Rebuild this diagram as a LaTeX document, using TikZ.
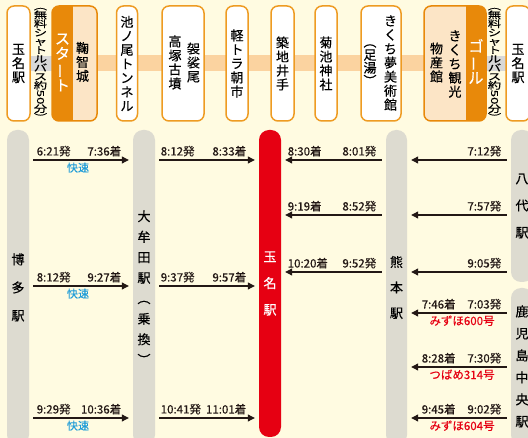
\documentclass[tikz,border=0pt]{standalone}
\usepackage{fontspec}
\usepackage{graphicx}
\setmainfont{Noto Sans CJK JP}[FakeBold=0.35]
\newfontfamily\flatfont{Noto Sans CJK JP}[FakeStretch=1.4, FakeBold=0.35]
\usetikzlibrary{arrows.meta,backgrounds}

\definecolor{cream}{HTML}{FFFBE1}
\definecolor{boxline}{HTML}{EE9B22}
\definecolor{accent}{HTML}{E8890A}
\definecolor{peachlt}{HTML}{FCE5C6}
\definecolor{band}{HTML}{FBD3A0}
\definecolor{shuttle}{HTML}{D8D8D8}
\definecolor{pillargray}{HTML}{DDDBD0}
\definecolor{tamanared}{HTML}{E60012}
\definecolor{ink}{HTML}{231815}
\definecolor{rapidblue}{HTML}{1E9CD8}

\newcommand{\chou}{\rotatebox[origin=c]{90}{ー}}

\begin{document}
\begin{tikzpicture}[x=1pt, y=-1pt,
  stop/.style={draw=boxline, fill=white, line width=1.5pt, rounded corners=7pt,
    minimum height=115pt, inner sep=0pt, outer sep=0pt, align=center,
    font=\fontsize{13}{14}\selectfont},
  tate/.style={inner sep=0pt, align=center, font=\fontsize{13}{14}\selectfont},
  bus/.style={inner sep=0pt, align=center,
    font={\flatfont\fontsize{9.5}{8.8}\selectfont\lineskiplimit=-2pt\lineskip=0pt}},
  pillar/.style={fill=pillargray, rounded corners=10pt, minimum width=22pt,
    inner sep=0pt, align=center},
  run/.style={draw=ink, line width=1.1pt, shorten <=4pt, shorten >=4pt,
    -{Triangle[length=7pt, width=7pt]}},
  time/.style={inner sep=1pt, yshift=2pt, text=ink, font=\fontsize{11.5}{13}\selectfont},
  rapid/.style={below, inner sep=1pt, yshift=-1pt, text=rapidblue, font=\fontsize{11}{12}\selectfont},
  train/.style={below, inner sep=1pt, yshift=-1pt, text=tamanared, font=\fontsize{11.5}{12}\selectfont}]
\useasboundingbox (0,0) rectangle (528,438);

% sightseeing stops
\node[stop, minimum width=23pt] (tamanaA) at (18.5,63.5) {玉\\名\\駅};
\node[bus] (busA) at (40.5,64.5) {︵\\無\\料\\シ\\ャ\\ト\\ル\\バ\\ス\\約\\\rotatebox[origin=c]{-90}{50}\\分\\︶};
\node[stop, draw=none, fill=peachlt, minimum width=45pt] (start) at (74.5,63.5) {};
\begin{scope}
  \clip[rounded corners=7pt] (start.south west) rectangle (start.north east);
  \fill[accent] (start.south west) rectangle ([xshift=21pt]start.north west);
\end{scope}
\draw[accent, line width=1.5pt, rounded corners=7pt] (start.south west) rectangle (start.north east);
\node[tate, text=white, font=\fontsize{15}{15}\selectfont] (startlbl) at (62.5,62.5) {ス\\タ\\\chou\\ト};
\node[tate] (kikuchijo) at (82.5,62) {鞠\\智\\城};
\node[stop, minimum width=21pt] (tunnel) at (127,63.5) {池\\ノ\\尾\\ト\\ン\\ネ\\ル};
\node[stop, minimum width=42pt] (kofun) at (183,63.5) {};
\node[tate] (kofunA) at (193.5,62.5) {袈\\裟\\尾};
\node[tate] (kofunB) at (175,62.5) {高\\塚\\古\\墳};
\node[stop, minimum width=22pt] (asaichi) at (237,63.5) {軽\\ト\\ラ\\朝\\市};
\node[stop, minimum width=23pt] (ide) at (282.5,63.5) {築\\地\\井\\手};
\node[stop, minimum width=22pt] (jinja) at (326,63.5) {菊\\池\\神\\社};
\node[stop, minimum width=40pt] (bijutsu) at (381,63.5) {};
\node[tate] (bijutsuA) at (390.5,63) {き\\く\\ち\\夢\\美\\術\\館};
\node[tate, font=\fontsize{13}{13}\selectfont] (ashiyu) at (370,65) {︵\\足\\湯\\︶};
\node[stop, draw=none, fill=peachlt, minimum width=62pt] (goal) at (455,63.5) {};
\begin{scope}
  \clip[rounded corners=7pt] (goal.south west) rectangle (goal.north east);
  \fill[accent] ([xshift=-20pt]goal.south east) rectangle (goal.north east);
\end{scope}
\draw[accent, line width=1.5pt, rounded corners=7pt] (goal.south west) rectangle (goal.north east);
\node[tate, text=white, font=\fontsize{15}{15}\selectfont] (goallbl) at (476,61.5) {ゴ\\\chou\\ル};
\node[tate] (bussanA) at (455,64) {き\\く\\ち\\観\\光};
\node[tate] (bussanB) at (436.5,62.5) {物\\産\\館};
\node[bus] (busB) at (494.5,64.5) {︵\\無\\料\\シ\\ャ\\ト\\ル\\バ\\ス\\約\\\rotatebox[origin=c]{-90}{50}\\分\\︶};
\node[stop, minimum width=24pt] (tamanaB) at (518,63.5) {玉\\名\\駅};

\begin{scope}[on background layer]
  \fill[cream] (0,0) rectangle (528,438);
  \draw[band, line width=16pt] (start) -- (goal);
  \draw[shuttle, line width=15pt] (tamanaA) -- (start);
  \draw[shuttle, line width=15pt] (goal) -- (tamanaB);
\end{scope}

% stations
\node[pillar, minimum height=315pt, font=\fontsize{13}{28}\selectfont] (hakata) at (18,287.5) {博\\多\\駅};
\node[pillar, minimum height=315pt, font=\fontsize{13}{20.5}\selectfont] (omuta) at (144,287.5) {大\\牟\\田\\駅\\︵\\乗\\換\\︶};
\node[pillar, fill=tamanared, text=white, minimum height=307pt, font=\fontsize{13}{26.5}\selectfont] (tamana) at (270,283.5) {玉\\名\\駅};
\node[pillar, minimum width=21pt, minimum height=315pt, font=\fontsize{13}{25.5}\selectfont] (kumamoto) at (396.5,287.5) {熊\\本\\駅};
\node[pillar, minimum height=152pt, font=\fontsize{13}{27}\selectfont] (yatsushiro) at (522,206) {八\\代\\駅};
\node[pillar, minimum height=157pt, font=\fontsize{13}{22}\selectfont] (kagoshima) at (522,366.5) {鹿\\児\\島\\中\\央\\駅};

\coordinate (a1) at (0,160);
\coordinate (a2) at (0,286);
\coordinate (a3) at (0,418);
\coordinate (b1) at (0,160);
\coordinate (b2) at (0,215);
\coordinate (b3) at (0,272);
\coordinate (c1) at (0,313);
\coordinate (c2) at (0,367);
\coordinate (c3) at (0,418);

% Hakata -> Omuta -> Tamana
\draw[run] (hakata.east |- a1) -- node[time, pos=0, anchor=south west, xshift=6pt] (dep1) {6:21発}
  node[time, pos=1, anchor=south east, xshift=-10pt] (arr1) {7:36着}
  node[rapid, xshift=-3pt] (exp1) {快速} (omuta.west |- a1);
\draw[run] (hakata.east |- a2) -- node[time, pos=0, anchor=south west, xshift=6pt] (dep2) {8:12発}
  node[time, pos=1, anchor=south east, xshift=-10pt] (arr2) {9:27着}
  node[rapid, xshift=-3pt] (exp2) {快速} (omuta.west |- a2);
\draw[run] (hakata.east |- a3) -- node[time, pos=0, anchor=south west, xshift=6pt] (dep3) {9:29発}
  node[time, pos=1, anchor=south east, xshift=-10pt] (arr3) {10:36着}
  node[rapid, xshift=-3pt] (exp3) {快速} (omuta.west |- a3);
\draw[run] (omuta.east |- a1) -- node[time, pos=0, anchor=south west, xshift=4pt] (dep4) {8:12発}
  node[time, pos=1, anchor=south east, xshift=-11pt] (arr4) {8:33着} (tamana.west |- a1);
\draw[run] (omuta.east |- a2) -- node[time, pos=0, anchor=south west, xshift=4pt] (dep5) {9:37発}
  node[time, pos=1, anchor=south east, xshift=-11pt] (arr5) {9:57着} (tamana.west |- a2);
\draw[run] (omuta.east |- a3) -- node[time, pos=0, anchor=south west, xshift=4pt] (dep6) {10:41発}
  node[time, pos=1, anchor=south east, xshift=-11pt] (arr6) {11:01着} (tamana.west |- a3);

% Kumamoto -> Tamana
\draw[run] (kumamoto.west |- b1) -- node[time, pos=0, anchor=south east, xshift=-8pt] (dep7) {8:01発}
  node[time, pos=1, anchor=south west, xshift=5pt] (arr7) {8:30着} (tamana.east |- b1);
\draw[run] (kumamoto.west |- b2) -- node[time, pos=0, anchor=south east, xshift=-8pt] (dep8) {8:52発}
  node[time, pos=1, anchor=south west, xshift=5pt] (arr8) {9:19着} (tamana.east |- b2);
\draw[run] (kumamoto.west |- b3) -- node[time, pos=0, anchor=south east, xshift=-8pt] (dep9) {9:52発}
  node[time, pos=1, anchor=south west, xshift=5pt] (arr9) {10:20着} (tamana.east |- b3);

% Yatsushiro / Kagoshima-Chuo -> Kumamoto
\draw[run] (yatsushiro.west |- b1) -- node[time, pos=0, anchor=south east, xshift=-8pt] (dep10) {7:12発} (kumamoto.east |- b1);
\draw[run] (yatsushiro.west |- b2) -- node[time, pos=0, anchor=south east, xshift=-8pt] (dep11) {7:57発} (kumamoto.east |- b2);
\draw[run] (yatsushiro.west |- b3) -- node[time, pos=0, anchor=south east, xshift=-8pt] (dep12) {9:05発} (kumamoto.east |- b3);
\draw[run] (kagoshima.west |- c1) -- node[time, pos=0, anchor=south east, xshift=-8pt] (dep13) {7:03発}
  node[time, pos=1, anchor=south west, xshift=13pt] (arr13) {7:46着}
  node[train, xshift=3pt] (ltd13) {みずほ600号} (kumamoto.east |- c1);
\draw[run] (kagoshima.west |- c2) -- node[time, pos=0, anchor=south east, xshift=-8pt] (dep14) {7:30発}
  node[time, pos=1, anchor=south west, xshift=13pt] (arr14) {8:28着}
  node[train, xshift=3pt] (ltd14) {つばめ314号} (kumamoto.east |- c2);
\draw[run] (kagoshima.west |- c3) -- node[time, pos=0, anchor=south east, xshift=-8pt] (dep15) {9:02発}
  node[time, pos=1, anchor=south west, xshift=13pt] (arr15) {9:45着}
  node[train, xshift=3pt] (ltd15) {みずほ604号} (kumamoto.east |- c3);
\end{tikzpicture}
\end{document}
